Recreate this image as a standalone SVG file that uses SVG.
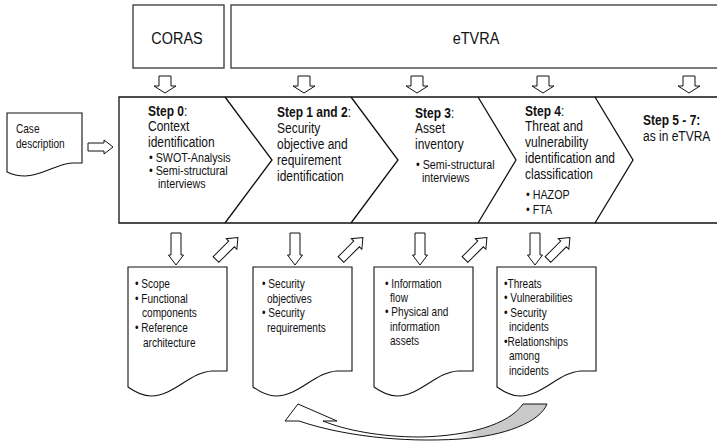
<svg xmlns="http://www.w3.org/2000/svg" xmlns:xlink="http://www.w3.org/1999/xlink" width="717" height="442" viewBox="0 0 717 442">
  <style>
    .frame { fill: #fff; stroke: #444; stroke-width: 1.4; }
    .band { fill: none; stroke: #111; stroke-width: 1.3; }
    .doc { fill: #fff; stroke: #111; stroke-width: 1.1; }
    .arr { fill: #fff; stroke: #111; stroke-width: 1; }
    text { font-family: "Liberation Sans", Arial, sans-serif; fill: #111; }
    .big { font-size: 17px; }
    .head { font-size: 15px; }
    .b { font-weight: bold; }
    .sub { font-size: 12.6px; }
    .small { font-size: 12.6px; }
  </style>
  <defs>
    <!-- hollow block arrow pointing down, top centre at origin -->
    <path id="downBig" d="M-6,0 H6 V10 H11 L0,17 L-11,10 H-6 Z"/>
    <path id="downSmall" d="M-5,0 H5 V22 H7.5 L0,32 L-7.5,22 H-5 Z"/>
    <!-- hollow block arrow pointing right, tail centre at origin -->
    <path id="rightArr" d="M0,-4 H22 V-7.5 L31,0 L22,7.5 V4 H0 Z"/>
    <!-- document shape with wavy bottom edge -->
    <path id="docShape" d="M0,0 H99 V104 H84 C62,105 46,129 23,129 C14,129 7,125 0,120 Z"/>
    <linearGradient id="ribbon" gradientUnits="userSpaceOnUse" x1="455" y1="0" x2="478" y2="0">
      <stop offset="0" stop-color="#fff"/>
      <stop offset="1" stop-color="#c9c9c9"/>
    </linearGradient>
  </defs>

  <!-- method sources -->
  <g id="coras">
    <rect class="frame" x="133" y="5" width="91" height="63"/>
    <text class="big" text-anchor="middle" transform="translate(177 44) scale(0.85 1)">CORAS</text>
  </g>
  <g id="etvra">
    <rect class="frame" x="231" y="5" width="500" height="63"/>
    <text class="big" text-anchor="middle" transform="translate(476 44) scale(0.85 1)">eTVRA</text>
  </g>

  <!-- input document -->
  <g id="case-description">
    <path class="doc" d="M7,113 H82 V163 H72 C56,164 42,176 25,176 C17,176 11,174 7,172 Z"/>
    <text class="small" transform="translate(16 0) scale(0.8 1)"><tspan x="0" y="133">Case</tspan><tspan x="0" y="148">description</tspan></text>
  </g>

  <!-- process band -->
  <g id="process-band">
    <path class="band" d="M720,97 H119 V223 H720"/>
    <path class="band" d="M225,97 L272,160 L225,223"/>
    <path class="band" d="M351,97 L398,160 L351,223"/>
    <path class="band" d="M478,97 L516,160 L478,223"/>
    <path class="band" d="M595,97 L633,160 L595,223"/>
  </g>

  <g id="step0">
    <text transform="translate(148 0) scale(0.8 1)">
      <tspan class="head" x="0" y="116"><tspan class="b">Step 0</tspan>:</tspan>
      <tspan class="head" x="0" y="131">Context</tspan>
      <tspan class="head" x="0" y="147">identification</tspan>
    </text>
    <text class="sub" transform="translate(149 0) scale(0.85 1)">
      <tspan x="0" y="162">• SWOT-Analysis</tspan>
      <tspan x="0" y="175">• Semi-structural</tspan>
      <tspan x="10.5" y="188">interviews</tspan>
    </text>
  </g>

  <g id="step1-2">
    <text transform="translate(277 0) scale(0.8 1)">
      <tspan class="head" x="0" y="117"><tspan class="b">Step 1 and 2</tspan>:</tspan>
      <tspan class="head" x="0" y="133">Security</tspan>
      <tspan class="head" x="0" y="149">objective and</tspan>
      <tspan class="head" x="0" y="165">requirement</tspan>
      <tspan class="head" x="0" y="181">identification</tspan>
    </text>
  </g>

  <g id="step3">
    <text transform="translate(415 0) scale(0.8 1)">
      <tspan class="head" x="0" y="118"><tspan class="b">Step 3</tspan>:</tspan>
      <tspan class="head" x="0" y="133">Asset</tspan>
      <tspan class="head" x="0" y="149">inventory</tspan>
    </text>
    <text class="sub" transform="translate(416 0) scale(0.85 1)">
      <tspan x="0" y="169">• Semi-structural</tspan>
      <tspan x="7" y="182">interviews</tspan>
    </text>
  </g>

  <g id="step4">
    <text transform="translate(525 0) scale(0.8 1)">
      <tspan class="head" x="0" y="116"><tspan class="b">Step 4</tspan>:</tspan>
      <tspan class="head" x="0" y="131">Threat and</tspan>
      <tspan class="head" x="0" y="147">vulnerability</tspan>
      <tspan class="head" x="0" y="163">identification and</tspan>
      <tspan class="head" x="0" y="179">classification</tspan>
    </text>
    <text class="sub" transform="translate(526 0) scale(0.85 1)">
      <tspan x="0" y="199">• HAZOP</tspan>
      <tspan x="0" y="214">• FTA</tspan>
    </text>
  </g>

  <g id="step5-7">
    <text transform="translate(643 0) scale(0.8 1)">
      <tspan class="head b" x="0" y="125">Step 5 - 7:</tspan>
      <tspan class="head" x="0" y="141">as in eTVRA</tspan>
    </text>
  </g>

  <!-- output documents -->
  <g id="doc-context">
    <use href="#docShape" class="doc" x="128" y="267"/>
    <text class="small" transform="translate(135 0) scale(0.8 1)">
      <tspan x="0" y="288">• Scope</tspan>
      <tspan x="0" y="303">• Functional</tspan>
      <tspan x="8.75" y="317">components</tspan>
      <tspan x="0" y="332">• Reference</tspan>
      <tspan x="10" y="347">architecture</tspan>
    </text>
  </g>
  <g id="doc-security">
    <use href="#docShape" class="doc" x="253" y="267"/>
    <text class="small" transform="translate(262 0) scale(0.8 1)">
      <tspan x="0" y="288">• Security</tspan>
      <tspan x="6.25" y="303">objectives</tspan>
      <tspan x="0" y="317">• Security</tspan>
      <tspan x="6.25" y="332">requirements</tspan>
    </text>
  </g>
  <g id="doc-assets">
    <use href="#docShape" class="doc" x="374" y="267"/>
    <text class="small" transform="translate(385 0) scale(0.8 1)">
      <tspan x="0" y="288">• Information</tspan>
      <tspan x="6.25" y="302">flow</tspan>
      <tspan x="0" y="316">• Physical and</tspan>
      <tspan x="6.25" y="331">information</tspan>
      <tspan x="6.25" y="345">assets</tspan>
    </text>
  </g>
  <g id="doc-threats">
    <use href="#docShape" class="doc" x="497" y="267"/>
    <text class="small" transform="translate(504 0) scale(0.8 1)">
      <tspan x="0" y="288">•Threats</tspan>
      <tspan x="0" y="302">• Vulnerabilities</tspan>
      <tspan x="0" y="317">• Security</tspan>
      <tspan x="6.25" y="331">incidents</tspan>
      <tspan x="0" y="346">•Relationships</tspan>
      <tspan x="6.25" y="360">among</tspan>
      <tspan x="6.25" y="375">incidents</tspan>
    </text>
  </g>

  <!-- connectors -->
  <g id="connectors">
    <use href="#downBig" class="arr" x="165" y="76"/>
    <use href="#downBig" class="arr" x="304" y="76"/>
    <use href="#downBig" class="arr" x="417" y="76"/>
    <use href="#downBig" class="arr" x="543" y="76"/>
    <use href="#downBig" class="arr" x="689" y="76"/>

    <path class="arr" d="M88,143 H104 V140 L113,147 L104,154 V151 H88 Z"/>

    <use href="#downSmall" class="arr" x="176" y="233"/>
    <use href="#downSmall" class="arr" x="295" y="233"/>
    <use href="#downSmall" class="arr" x="420" y="233"/>
    <use href="#downSmall" class="arr" x="535" y="233"/>

    <use href="#rightArr" class="arr" transform="translate(216 259.5) rotate(-45)"/>
    <use href="#rightArr" class="arr" transform="translate(341 259.5) rotate(-45)"/>
    <use href="#rightArr" class="arr" transform="translate(465 259.5) rotate(-45)"/>
    <use href="#rightArr" class="arr" transform="translate(548 259.5) rotate(-45)"/>

    <!-- feedback loop back to the earlier steps -->
    <path d="M285,421 L298,404 L337,421 L323,421 C345,430 380,437 420,437 C468,436 508,425 523,404 L547,404 C540,422 505,436 460,439 C400,443 340,435 299,421 Z" fill="url(#ribbon)" stroke="#111" stroke-width="1"/>
  </g>
</svg>
